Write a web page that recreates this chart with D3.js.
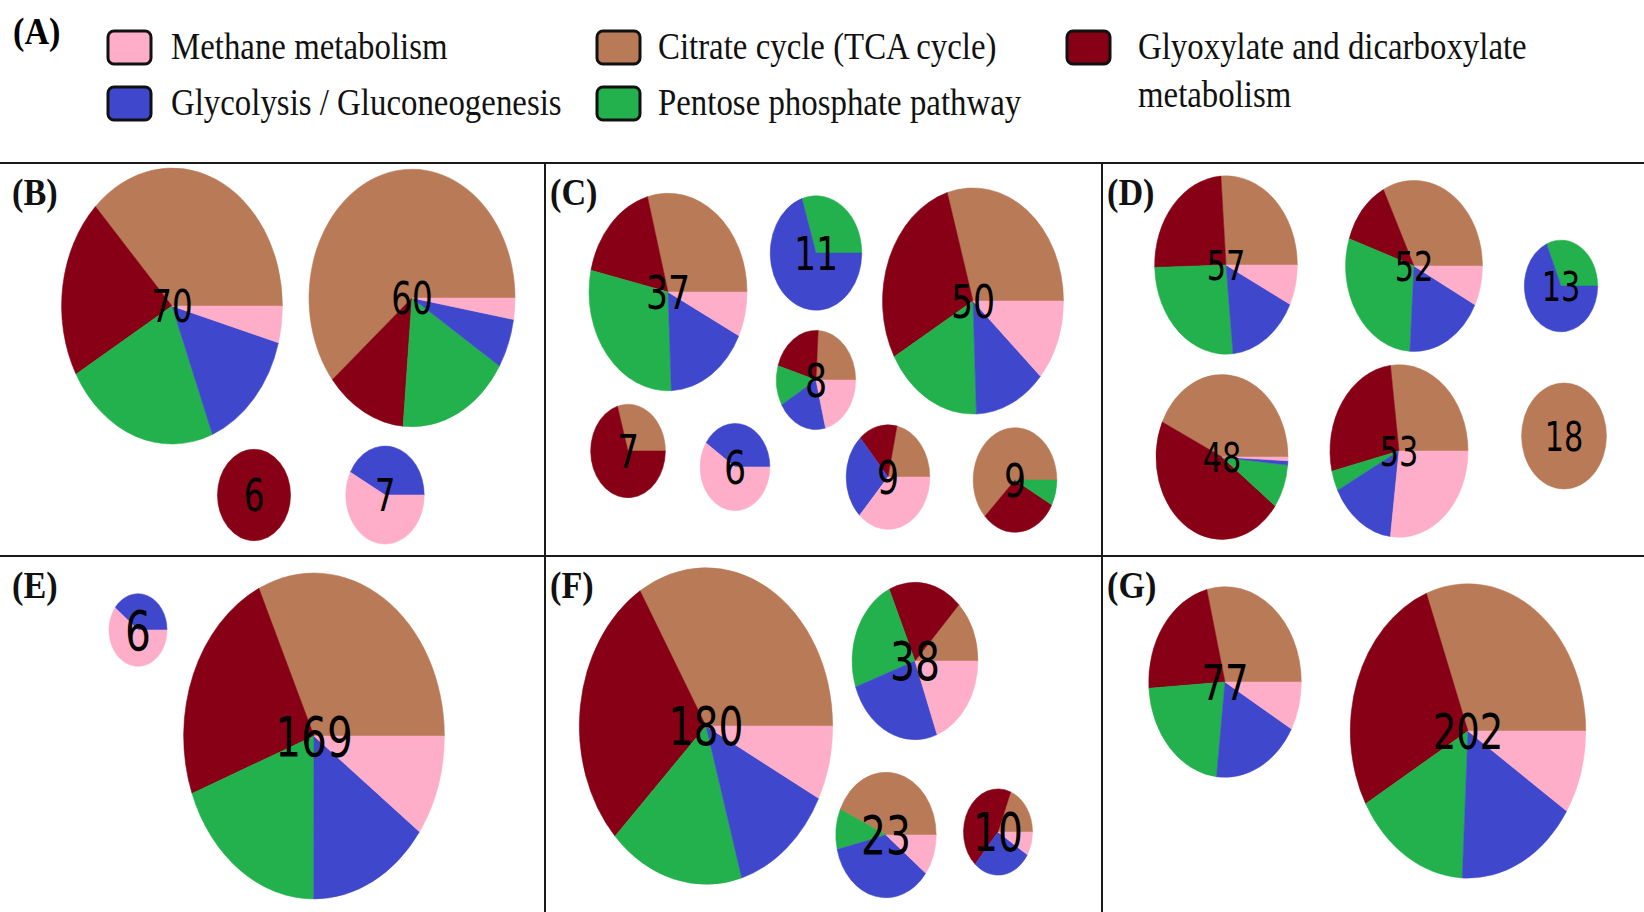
<!DOCTYPE html>
<html>
<head>
<meta charset="utf-8">
<script src="https://cdn.jsdelivr.net/npm/d3@7"></script>
<style>
  body { margin: 0; background: #fff; }
  svg { display: block; }
</style>
</head>
<body>
<div id="chart"></div>
<script>
// Pathways, in the order the slices run (counter-clockwise from 3 o'clock)
var pathways = ["Citrate cycle (TCA cycle)", "Glyoxylate and dicarboxylate metabolism",
                "Pentose phosphate pathway", "Glycolysis / Gluconeogenesis", "Methane metabolism"];
var pathwayColors = ["#B97A57", "#880015", "#22B14C", "#3F48CC", "#FFAEC9"];

// Legend layout: [pathway index, column, row]
var legendItems = [[4, 0, 0], [0, 1, 0], [1, 2, 0], [3, 0, 1], [2, 1, 1]];
var legendLines = {1: ["Glyoxylate and dicarboxylate", "metabolism"]};

// Panel data: number shown in each pie, and slice values per pathway
var countsB = [70, 60, 6, 7];
var valuesB = [
    [26.0, 14.7, 15.9, 10.3, 3.0],
    [36.5, 7.6, 10.5, 3.7, 1.6],
    [0, 6, 0, 0, 0],
    [0, 0, 0, 2.96, 4.04]
];
var countsC = [37, 11, 50, 8, 7, 6, 9, 9];
var valuesC = [
    [10.8, 6.4, 10.8, 6.3, 2.7],
    [0, 0, 3.3, 7.7, 0],
    [14.8, 14.3, 8.7, 6.4, 5.8],
    [1.93, 1.7, 1.04, 1.64, 1.69],
    [2.07, 4.93, 0, 0, 0],
    [0, 0, 0, 2.44, 3.56],
    [1.94, 1.35, 0, 2.39, 3.32],
    [5.6, 2.69, 0.71, 0, 0]
];
var countsD = [57, 52, 13, 48, 53, 18];
var valuesD = [
    [14.9, 13.85, 14.9, 9.2, 4.15],
    [16.85, 6.47, 15.2, 9.6, 3.9],
    [0, 0, 4.09, 8.91, 0],
    [20.65, 22.5, 4.1, 0.4, 0.35],
    [14.3, 14.2, 2.0, 8.2, 14.3],
    [18, 0, 0, 0, 0]
];
var countsE = [6, 169];
var valuesE = [
    [0, 0, 0, 2.37, 3.63],
    [54.0, 40.2, 32.5, 25.4, 16.9]
];
var countsF = [180, 38, 23, 10];
var valuesF = [
    [60.7, 51.35, 31.15, 23.2, 13.6],
    [4.83, 7.23, 8.98, 9.63, 7.33],
    [9.95, 0, 2.41, 8.24, 2.4],
    [1.9, 4.45, 0, 2.77, 0.88]
];
var countsG = [77, 202];
var valuesG = [
    [22.2, 17.1, 17.07, 14.3, 6.3],
    [62.1, 55.5, 32.3, 33.55, 18.5]
];

// Where each pie sits inside its panel (px from panel corner)
var centersB = [[172, 143], [412, 135], [254, 332], [385, 332]];
var centersC = [[123, 129], [271, 90], [428, 138], [271, 217], [83, 288], [190, 304], [343, 314], [470, 317]];
var centersD = [[124, 102], [312, 103], [459, 123], [120, 294], [297, 288], [462, 273]];
var centersE = [[138, 74], [314, 180]];
var centersF = [[161, 170], [370, 105], [341, 279], [453, 276]];
var centersG = [[123, 126], [366, 175]];

var largeur = 1644, hauteur = 912;
var splitY1 = 163, splitY2 = 556, splitX1 = 545, splitX2 = 1102;
var aspect = 0.80;       // pies are squeezed horizontally
var texteAspect = 0.74;  // and so are the numbers

var panels = [
    {nom: "(B)", x: 0, y: splitY1, k: 20.4, fs: 44, counts: countsB, values: valuesB, centers: centersB},
    {nom: "(C)", x: splitX1, y: splitY1, k: 19.45, fs: 47, counts: countsC, values: valuesC, centers: centersC},
    {nom: "(D)", x: splitX2, y: splitY1, k: 14.45, fs: 41, counts: countsD, values: valuesD, centers: centersD},
    {nom: "(E)", x: 0, y: splitY2, k: 16.2, fs: 55, counts: countsE, values: valuesE, centers: centersE},
    {nom: "(F)", x: splitX1, y: splitY2, k: 15.3, fs: 53, counts: countsF, values: valuesF, centers: centersF},
    {nom: "(G)", x: splitX2, y: splitY2, k: 13.5, fs: 50, counts: countsG, values: valuesG, centers: centersG}
];

var svg = d3.select("#chart").append("svg").attr("width", largeur).attr("height", hauteur);
svg.append("rect").attr("width", largeur).attr("height", hauteur).attr("fill", "#fff");

var color = d3.scaleOrdinal().domain(pathways).range(pathwayColors);

// Pie generator: start at 3 o'clock, go counter-clockwise (matplotlib default)
var pie = d3.pie().sort(null).value(function (d) { return d; })
    .startAngle(Math.PI / 2).endAngle(Math.PI / 2 - 2 * Math.PI);
var arc = d3.arc().innerRadius(0);

// Legend
var colBox = d3.scaleOrdinal().domain([0, 1, 2]).range([108, 597, 1067]);
var colText = d3.scaleOrdinal().domain([0, 1, 2]).range([171, 658, 1138]);
var rowY = d3.scaleLinear().domain([0, 1]).range([31, 87]);

function texteSerre (parent, x, y, txt, sx, attrs) {
    var g = parent.append("g").attr("transform", "translate(" + x + "," + y + ") scale(" + sx + ",1)");
    var t = g.append("text").text(txt);
    for (var a in attrs) t.attr(a, attrs[a]);
    return t;
}

var serif = "'Liberation Serif', 'Times New Roman', serif";

texteSerre(svg, 13, 44, "(A)", 0.9, {"font-family": serif, "font-weight": "bold", "font-size": 38});

legendItems.forEach(function (it) {
    var i = it[0], col = it[1], row = it[2];
    svg.append("rect")
        .attr("x", colBox(col)).attr("y", rowY(row))
        .attr("width", 43).attr("height", 33)
        .attr("rx", 6).attr("ry", 6)
        .attr("fill", color(pathways[i]))
        .attr("stroke", "#111").attr("stroke-width", 3);
    var lignes = legendLines[i] || [pathways[i]];
    lignes.forEach(function (l, j) {
        texteSerre(svg, colText(col), rowY(row) + 28 + j * 48, l, 0.865,
            {"font-family": serif, "font-size": 38, "fill": "#111"});
    });
});

// Panel separators
var separateurs = [
    [0, splitY1, largeur, splitY1],
    [0, splitY2, largeur, splitY2],
    [splitX1, splitY1, splitX1, hauteur],
    [splitX2, splitY1, splitX2, hauteur]
];
svg.selectAll("line.sep").data(separateurs).enter().append("line")
    .attr("class", "sep")
    .attr("x1", function (d) { return d[0]; }).attr("y1", function (d) { return d[1]; })
    .attr("x2", function (d) { return d[2]; }).attr("y2", function (d) { return d[3]; })
    .attr("stroke", "#1a1a1a").attr("stroke-width", 2);

// Panels
panels.forEach(function (p) {
    var g = svg.append("g").attr("transform", "translate(" + p.x + "," + p.y + ")");
    var rayon = d3.scalePow().exponent(0.45).domain([0, 1]).range([0, p.k]);

    var pies = g.selectAll("g.pie").data(p.values).enter().append("g")
        .attr("class", "pie")
        .attr("transform", function (d, i) {
            return "translate(" + p.centers[i][0] + "," + p.centers[i][1] + ")";
        });

    pies.append("g")
        .attr("transform", "scale(" + aspect + ",1)")
        .each(function (d, i) {
            var r = rayon(p.counts[i]);
            d3.select(this).selectAll("path").data(pie(d)).enter().append("path")
                .filter(function (s) { return s.value > 0; })
                .attr("d", function (s) { return arc.outerRadius(r)(s); })
                .attr("fill", function (s) { return color(pathways[s.index]); })
                .attr("stroke", function (s) { return color(pathways[s.index]); })
                .attr("stroke-width", 0.6);
        });

    pies.each(function (d, i) {
        texteSerre(d3.select(this), 0, p.fs * 0.364, p.counts[i], texteAspect,
            {"font-family": "'DejaVu Sans', sans-serif", "font-size": p.fs,
             "text-anchor": "middle", "fill": "#000"});
    });

    texteSerre(g, p.x === 0 ? 12 : 5, 42, p.nom, 0.9,
        {"font-family": serif, "font-weight": "bold", "font-size": 38, "fill": "#111"});
});
</script>
</body>
</html>
